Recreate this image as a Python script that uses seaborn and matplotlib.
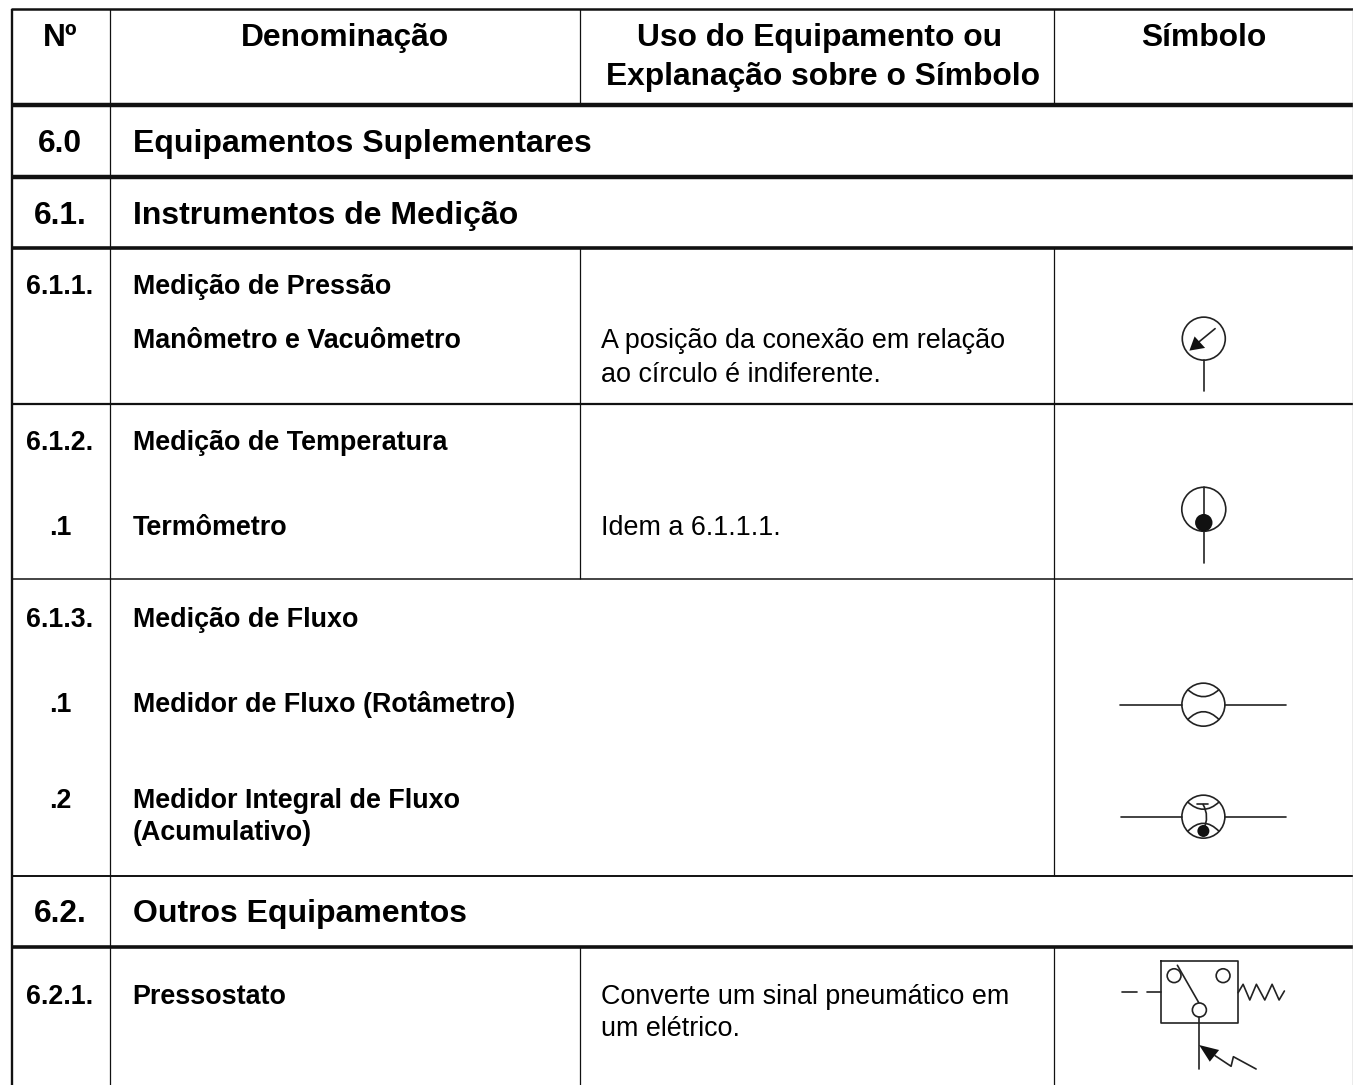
import matplotlib
matplotlib.use('Agg')
import matplotlib.pyplot as plt
import matplotlib.patches as mpatches
from matplotlib.path import Path
import seaborn as sns

sns.set_theme(style='white')
plt.rcParams['font.family'] = ['Liberation Sans', 'DejaVu Sans']

INK = '#111111'
SYM = '#222222'

# table rules: y, x start, x end, width in points
h_rules = [
    (9, 11, 1353, 1.8),
    (105, 11, 1353, 3.2),
    (177.5, 11, 1353, 3.2),
    (248, 11, 1353, 2.6),
    (404.3, 11, 1353, 1.6),
    (579, 11, 1353, 1.1),
    (875.7, 11, 1353, 1.4),
    (947, 11, 1353, 2.6),
]
v_rules = [
    (11.7, 9, 1085, 1.7),
    (109.5, 9, 1085, 0.9),
    (580, 9, 105, 0.9),
    (580, 248, 579, 0.9),
    (580, 946, 1085, 0.9),
    (1054, 9, 105, 0.9),
    (1054, 248, 876, 0.9),
    (1054, 946, 1085, 0.9),
]
right_edge = (1352.5, 9, 1085, 1.0)

# text
header = [
    (60, 46, 'Nº'), (345, 46, 'Denominação'),
    (820, 46, 'Uso do Equipamento ou'), (822.5, 85, 'Explanação sobre o Símbolo'),
    (1204, 46, 'Símbolo'),
]
sections = [
    (60, 152, '6.0', 'Equipamentos Suplementares'),
    (60, 224, '6.1.', 'Instrumentos de Medição'),
    (60, 922, '6.2.', 'Outros Equipamentos'),
]
numbers = [
    (294, '6.1.1.'), (450, '6.1.2.'), (535, '.1'), (627, '6.1.3.'),
    (712, '.1'), (808, '.2'), (1004, '6.2.1.'),
]
names = [
    (294, 'Medição de Pressão'), (348, 'Manômetro e Vacuômetro'),
    (450, 'Medição de Temperatura'), (535, 'Termômetro'),
    (627, 'Medição de Fluxo'), (712, 'Medidor de Fluxo (Rotâmetro)'),
    (808, 'Medidor Integral de Fluxo'), (840, '(Acumulativo)'),
    (1004, 'Pressostato'),
]
notes = [
    (348, 'A posição da conexão em relação'), (382, 'ao círculo é indiferente.'),
    (535, 'Idem a 6.1.1.1.'),
    (1004, 'Converte um sinal pneumático em'), (1036, 'um elétrico.'),
]

# symbols
circles = [
    (1203.7, 338.7, 21.5), (1203.7, 509.3, 22), (1203.3, 704.7, 21.5),
    (1203.3, 816.7, 21.5), (1174, 975.7, 6.9), (1223, 975.7, 6.9), (1199.3, 1010, 7),
]
balls = [(1203.7, 522.7, 8.7), (1203.3, 831, 6)]
polylines = [
    ([1203.7, 1203.7], [360, 391.5]),
    ([1215, 1197], [328.7, 343.5]),
    ([1203.7, 1203.7], [487.5, 563.5]),
    ([1120, 1182], [704.7, 704.7]),
    ([1225, 1286], [704.7, 704.7]),
    ([1121, 1182], [816.7, 816.7]),
    ([1225, 1286], [816.7, 816.7]),
    ([1197, 1208], [804, 804]),
    ([1160.7, 1237.7, 1237.7, 1160.7, 1160.7], [961, 961, 1022.7, 1022.7, 961]),
    ([1122.3, 1136.7], [992, 992]),
    ([1146.7, 1160.7], [992, 992]),
    ([1177.3, 1198.7], [965.3, 1002.7]),
    ([1198.7, 1198.7], [1017, 1068.7]),
    ([1215, 1231, 1233.3, 1256], [1055.7, 1066.3, 1056.7, 1069]),
    ([1238, 1243, 1249.7, 1256.3, 1264.7, 1272, 1279, 1284.3],
     [992.7, 984.3, 1000, 984.3, 1000, 984.3, 1000, 991]),
]
arcs = [
    ((1187.3, 689.3), (1203.3, 696.7), (1219.3, 689.3)),
    ((1187.3, 720), (1203.3, 711.7), (1219.3, 720)),
    ((1187.3, 801.7), (1203.3, 809.3), (1219.3, 801.7)),
    ((1187.3, 831.7), (1203.3, 823.3), (1219.3, 831.7)),
    ((1202.7, 804), (1206.5, 816.7), (1203.3, 830)),
]
arrowheads = [
    [(1189.3, 350.7), (1194.5, 336.5), (1205, 348)],
    [(1199, 1045), (1219, 1050), (1209.7, 1061.7)],
]

fig, ax = plt.subplots(figsize=(13.531, 10.851), dpi=100)
fig.subplots_adjust(0, 0, 1, 1)

# rules
for y, x0, x1, w in h_rules:
    sns.lineplot(x=[x0, x1], y=[y, y], color=INK, lw=w, estimator=None, sort=False,
                 solid_capstyle='butt', ax=ax)
for x, y0, y1, w in v_rules:
    sns.lineplot(x=[x, x], y=[y0, y1], color=INK, lw=w, estimator=None, sort=False,
                 solid_capstyle='butt', ax=ax)
x, y0, y1, w = right_edge
sns.lineplot(x=[x, x], y=[y0, y1], color='#999999', lw=w, estimator=None, sort=False,
             solid_capstyle='butt', ax=ax)

# symbol lines
for xs, ys in polylines:
    sns.lineplot(x=xs, y=ys, color=SYM, lw=1.2, estimator=None, sort=False, ax=ax)
for cx, cy, r in circles:
    ax.add_patch(mpatches.Circle((cx, cy), r, fill=False, ec=SYM, lw=1.2))
for cx, cy, r in balls:
    ax.add_patch(mpatches.Circle((cx, cy), r, fc=INK, ec='none', zorder=3))
for a, m, b in arcs:
    ctrl = (2 * m[0] - (a[0] + b[0]) / 2, 2 * m[1] - (a[1] + b[1]) / 2)
    path = Path([a, ctrl, b], [Path.MOVETO, Path.CURVE3, Path.CURVE3])
    ax.add_patch(mpatches.PathPatch(path, fill=False, ec=SYM, lw=1.2))
for tri in arrowheads:
    ax.add_patch(mpatches.Polygon(tri, closed=True, fc=INK, ec='none', zorder=3))

# texts
for x, y, s in header:
    ax.text(x, y, s, ha='center', va='baseline', fontsize=22.9, fontweight='bold', color='black')
for x, y, num, name in sections:
    ax.text(x, y, num, ha='center', va='baseline', fontsize=22.9, fontweight='bold', color='black')
    ax.text(132.7, y, name, ha='left', va='baseline', fontsize=23.05, fontweight='bold', color='black')
for y, s in numbers:
    ax.text(60, y, s, ha='center', va='baseline', fontsize=19.3, fontweight='bold', color='black')
for y, s in names:
    ax.text(132.7, y, s, ha='left', va='baseline', fontsize=19.35, fontweight='bold', color='black')
for y, s in notes:
    ax.text(601, y, s, ha='left', va='baseline', fontsize=19.4, color='black')

ax.set_xlim(0, 1353)
ax.set_ylim(1085, 0)
ax.axis('off')
fig.savefig('out.png', dpi=100, facecolor='white')
